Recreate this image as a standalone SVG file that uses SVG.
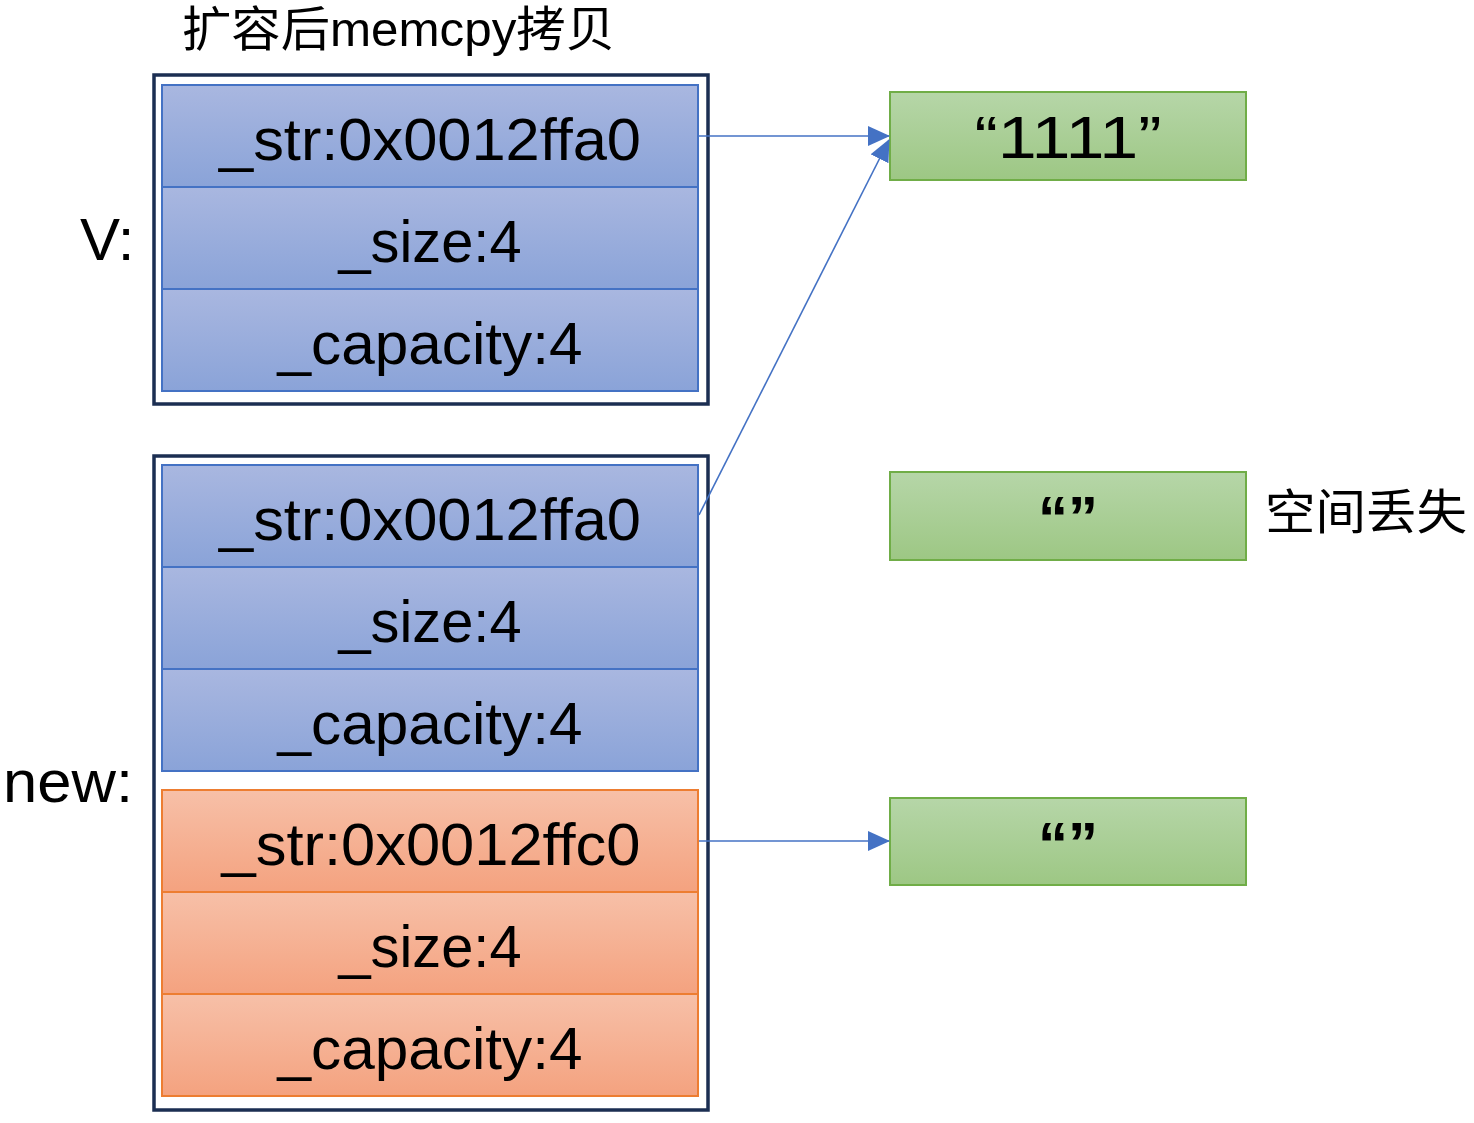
<svg xmlns="http://www.w3.org/2000/svg" width="1474" height="1123" viewBox="0 0 1474 1123">
<defs>
<linearGradient id="gBlue" x1="0" y1="0" x2="0" y2="1"><stop offset="0" stop-color="#a9b7e0"/><stop offset="1" stop-color="#8aa3d8"/></linearGradient>
<linearGradient id="gOrange" x1="0" y1="0" x2="0" y2="1"><stop offset="0" stop-color="#f7c0a8"/><stop offset="1" stop-color="#f4a27f"/></linearGradient>
<linearGradient id="gGreen" x1="0" y1="0" x2="0" y2="1"><stop offset="0" stop-color="#b6d6a8"/><stop offset="1" stop-color="#9dc784"/></linearGradient>
<marker id="arr" markerUnits="userSpaceOnUse" markerWidth="22" markerHeight="20" refX="21" refY="10" orient="auto"><path d="M0,0 L22,10 L0,20 Z" fill="#4472c4"/></marker>
</defs>
<style>
.outer{fill:#fff;stroke:#1b2e52;stroke-width:3.5}
.cb{fill:url(#gBlue);stroke:#4472c4;stroke-width:2}
.co{fill:url(#gOrange);stroke:#ed7d31;stroke-width:2}
.cg{fill:url(#gGreen);stroke:#70ad47;stroke-width:2}
.t{font-family:"Liberation Sans","Noto Sans CJK SC",sans-serif;fill:#000;text-anchor:middle}
.big{font-size:60px}
.lbl{font-size:60px;text-anchor:start}
.cn{font-size:48px;text-anchor:start}
.conn{stroke:#4472c4;stroke-width:1.6;fill:none;marker-end:url(#arr)}
</style>
<text class="t cn" x="182" y="46" textLength="433" lengthAdjust="spacingAndGlyphs">扩容后memcpy拷贝</text>
<text class="t lbl" x="80" y="260">V:</text>
<text class="t lbl" x="3" y="802" textLength="130" lengthAdjust="spacingAndGlyphs">new:</text>
<text class="t cn" x="1265" y="529" textLength="202" lengthAdjust="spacingAndGlyphs">空间丢失</text>
<g id="v">
<rect class="outer" x="154" y="75" width="554" height="329"/>
<rect class="cb" x="162" y="85" width="536" height="102"/>
<rect class="cb" x="162" y="187" width="536" height="102"/>
<rect class="cb" x="162" y="289" width="536" height="102"/>
<text class="t big" x="430" y="160" textLength="422" lengthAdjust="spacingAndGlyphs">_str:0x0012ffa0</text>
<text class="t big" x="430" y="262" textLength="183" lengthAdjust="spacingAndGlyphs">_size:4</text>
<text class="t big" x="430" y="364" textLength="305" lengthAdjust="spacingAndGlyphs">_capacity:4</text>
</g>
<g id="new">
<rect class="outer" x="154" y="456" width="554" height="654"/>
<rect class="cb" x="162" y="465" width="536" height="102"/>
<rect class="cb" x="162" y="567" width="536" height="102"/>
<rect class="cb" x="162" y="669" width="536" height="102"/>
<rect class="co" x="162" y="790" width="536" height="102"/>
<rect class="co" x="162" y="892" width="536" height="102"/>
<rect class="co" x="162" y="994" width="536" height="102"/>
<text class="t big" x="430" y="540" textLength="422" lengthAdjust="spacingAndGlyphs">_str:0x0012ffa0</text>
<text class="t big" x="430" y="642" textLength="183" lengthAdjust="spacingAndGlyphs">_size:4</text>
<text class="t big" x="430" y="744" textLength="305" lengthAdjust="spacingAndGlyphs">_capacity:4</text>
<text class="t big" x="431" y="865" textLength="419" lengthAdjust="spacingAndGlyphs">_str:0x0012ffc0</text>
<text class="t big" x="430" y="967" textLength="183" lengthAdjust="spacingAndGlyphs">_size:4</text>
<text class="t big" x="430" y="1069" textLength="305" lengthAdjust="spacingAndGlyphs">_capacity:4</text>
</g>
<g id="s1">
<rect class="cg" x="890" y="92" width="356" height="88"/>
<text class="t big" x="1068" y="158" textLength="187" lengthAdjust="spacingAndGlyphs">“1111”</text>
</g>
<g id="s2">
<rect class="cg" x="890" y="472" width="356" height="88"/>
<text class="t big" x="1068" y="538" font-weight="bold">“”</text>
</g>
<g id="s3">
<rect class="cg" x="890" y="798" width="356" height="87"/>
<text class="t big" x="1068" y="864" font-weight="bold">“”</text>
</g>
<g id="connectors">
<line class="conn" x1="699" y1="136" x2="889" y2="136"/>
<line class="conn" x1="699" y1="515" x2="889" y2="140"/>
<line class="conn" x1="699" y1="841" x2="889" y2="841"/>
</g>
</svg>
